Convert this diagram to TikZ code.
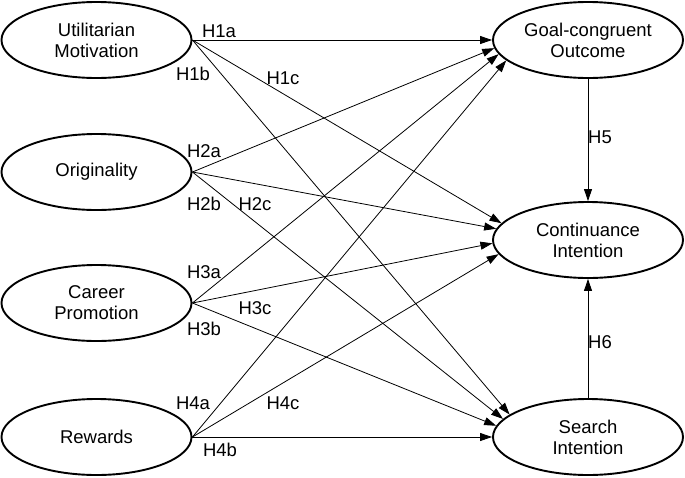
\documentclass[tikz,border=0pt]{standalone}
\usepackage{fontspec}
\setmainfont{Liberation Sans}
\usetikzlibrary{shapes.geometric,arrows.meta}
\begin{document}
\begin{tikzpicture}[x=1pt,y=-1pt,
  construct/.style={ellipse,draw,line width=1.9pt,minimum width=190pt,minimum height=76pt,inner sep=0pt,align=center,font=\fontsize{18.5}{21}\selectfont},
  conn/.style={-{Triangle[length=12pt,width=8pt]},line width=0.8pt},
  lbl/.style={font=\fontsize{18.5}{21}\selectfont,inner sep=0pt}]
\useasboundingbox (0,0) rectangle (685,477);
\node[construct] (um) at (96.5,40) {Utilitarian\\Motivation};
\node[construct] (or) at (96.5,172) {Originality};
\node[construct] (cp) at (96.5,303) {Career\\Promotion};
\node[construct] (rw) at (96.5,437) {Rewards};
\node[construct] (go) at (588,40) {Goal-congruent\\Outcome};
\node[construct] (ci) at (588,240) {Continuance\\Intention};
\node[construct] (si) at (588,437) {Search\\Intention};
% to goal-congruent outcome
\draw[conn] (um.east) -- (go.180);
\draw[conn] (or.east) -- (go.185);
\draw[conn] (cp.east) -- (go.189);
\draw[conn] (rw.east) -- (go.194);
% to continuance intention
\draw[conn] (um.east) -- (ci.169);
\draw[conn] (or.east) -- (ci.173);
\draw[conn] (cp.east) -- (ci.182);
\draw[conn] (rw.east) -- (ci.189);
% to search intention
\draw[conn] (um.east) -- (si.164);
\draw[conn] (or.east) -- (si.168);
\draw[conn] (cp.east) -- (si.173);
\draw[conn] (rw.east) -- (si.180);
% vertical
\draw[conn] (go.south) -- (ci.north);
\draw[conn] (si.north) -- (ci.south);
% labels
\node[lbl] (l1a) at (219,31) {H1a};
\node[lbl] (l1b) at (193,74) {H1b};
\node[lbl] (l1c) at (283,78) {H1c};
\node[lbl] (l2a) at (204,151) {H2a};
\node[lbl] (l2b) at (204,204) {H2b};
\node[lbl] (l2c) at (255,204) {H2c};
\node[lbl] (l3a) at (204,272) {H3a};
\node[lbl] (l3c) at (255,308) {H3c};
\node[lbl] (l3b) at (204,329) {H3b};
\node[lbl] (l4a) at (193,403) {H4a};
\node[lbl] (l4c) at (283,403) {H4c};
\node[lbl] (l4b) at (220,450) {H4b};
\node[lbl] (l5) at (600,137) {H5};
\node[lbl] (l6) at (600,342) {H6};
\end{tikzpicture}
\end{document}
